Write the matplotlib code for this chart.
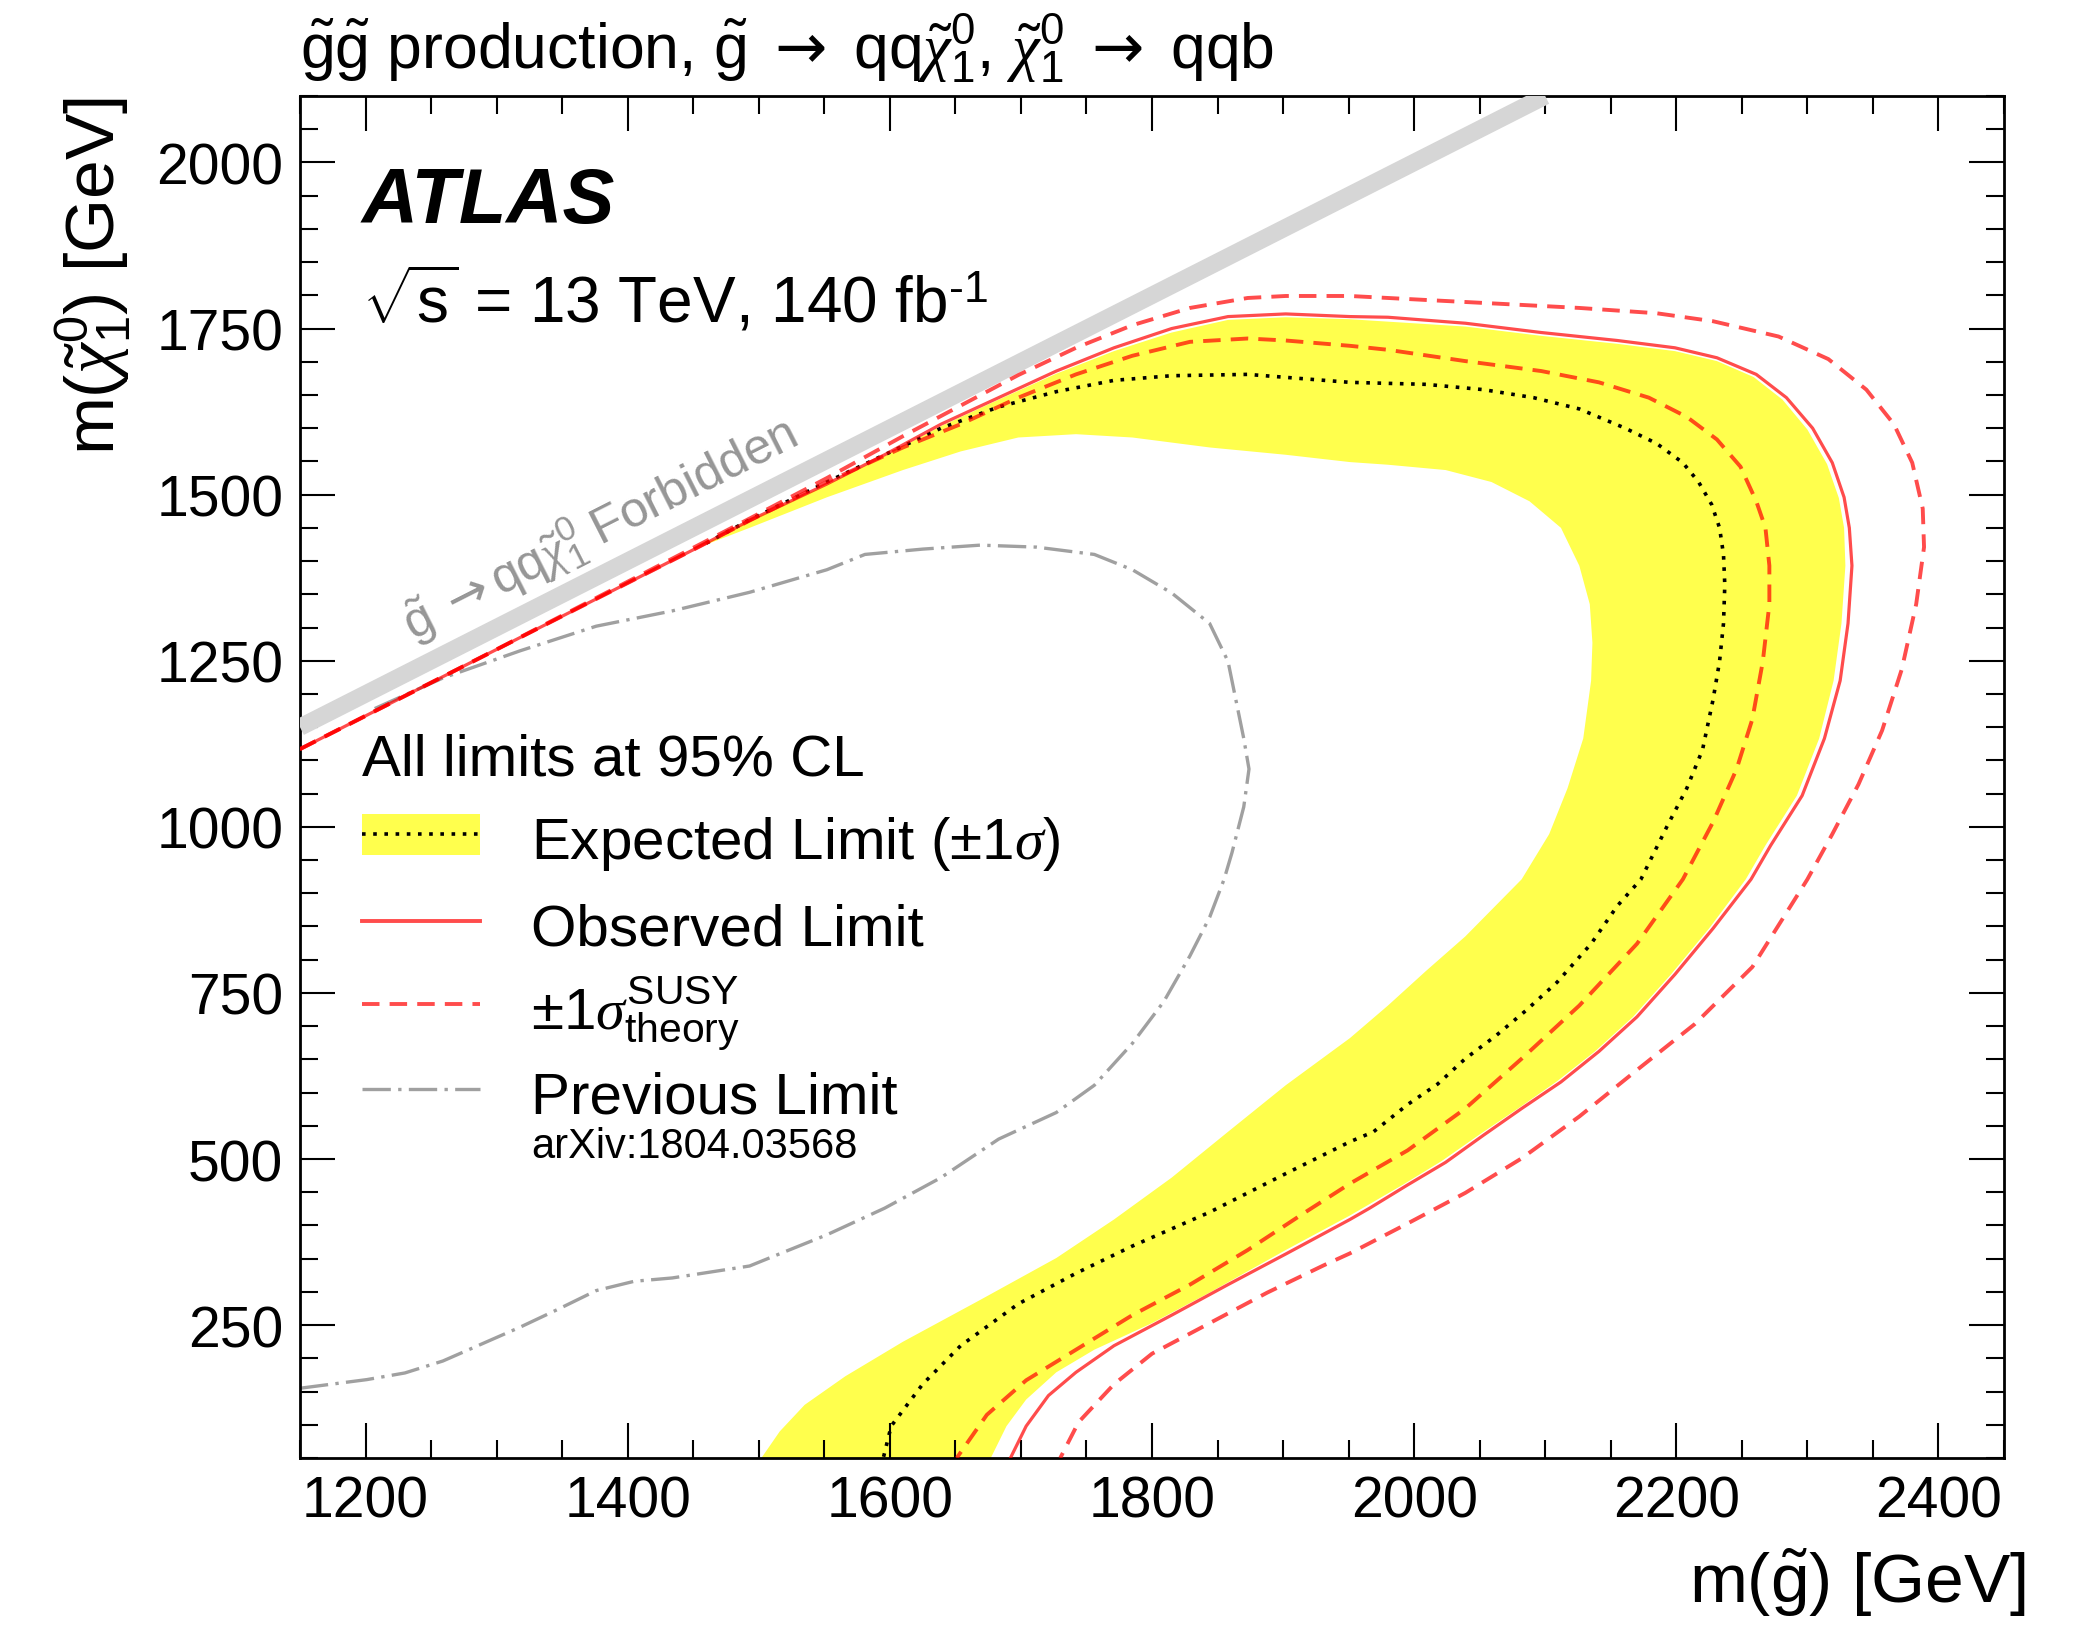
import matplotlib
matplotlib.use('Agg')
import matplotlib.pyplot as plt
from matplotlib.lines import Line2D
from matplotlib.patches import Rectangle
from matplotlib.ticker import MultipleLocator

plt.rcParams['font.family'] = ['Liberation Sans', 'DejaVu Sans']
plt.rcParams['mathtext.fontset'] = 'custom'
plt.rcParams['mathtext.rm'] = 'Liberation Sans'
plt.rcParams['mathtext.it'] = 'Liberation Serif:italic'
plt.rcParams['mathtext.bf'] = 'Liberation Sans:bold'
plt.rcParams['mathtext.sf'] = 'DejaVu Sans'

# --- contours: m(gluino), m(neutralino) in GeV ---
obs_x = [1150, 1300, 1450, 1493, 1552, 1596, 1639, 1683, 1727, 1771, 1815, 1858, 1902, 1951,
         1980, 2039, 2097, 2155, 2199, 2231, 2261, 2284, 2304, 2319, 2328, 2332, 2334, 2331,
         2325, 2313, 2296, 2272, 2257, 2228, 2199, 2170, 2141, 2112, 2082, 2053, 2024, 1995,
         1966, 1951, 1902, 1858, 1815, 1771, 1742, 1721, 1704, 1692]
obs_y = [1117, 1267, 1417, 1461, 1516, 1560, 1606, 1646, 1686, 1721, 1750, 1768, 1772, 1768,
         1767, 1758, 1744, 1732, 1721, 1706, 1681, 1646, 1600, 1548, 1496, 1450, 1393, 1306,
         1220, 1133, 1047, 972, 921, 847, 778, 714, 662, 616, 576, 536, 495, 461,
         426, 409, 357, 311, 265, 219, 179, 144, 98, 50]

obs_dn_x = [1150, 1300, 1450, 1493, 1552, 1610, 1654, 1698, 1742, 1785, 1829, 1873, 1902, 1951,
            1980, 2039, 2097, 2141, 2179, 2208, 2231, 2249, 2261, 2268, 2271, 2271, 2266, 2258,
            2246, 2228, 2205, 2170, 2126, 2082, 2039, 1995, 1951, 1917, 1873, 1829, 1785, 1742,
            1704, 1674, 1651]
obs_dn_y = [1117, 1267, 1417, 1461, 1519, 1571, 1606, 1646, 1681, 1709, 1730, 1735, 1732, 1724,
            1718, 1701, 1686, 1669, 1646, 1617, 1583, 1542, 1490, 1450, 1393, 1335, 1249, 1162,
            1087, 1007, 921, 824, 731, 651, 576, 513, 463, 420, 363, 311, 265, 213,
            167, 115, 50]

obs_up_x = [1150, 1300, 1450, 1493, 1552, 1610, 1654, 1698, 1742, 1785, 1829, 1873, 1902, 1951,
            2009, 2068, 2126, 2185, 2228, 2278, 2316, 2345, 2366, 2380, 2388, 2389, 2383, 2372,
            2357, 2339, 2319, 2300, 2258, 2214, 2170, 2126, 2082, 2039, 1995, 1951, 1931, 1888,
            1844, 1800, 1771, 1744, 1730]
obs_up_y = [1117, 1267, 1420, 1464, 1525, 1588, 1634, 1680, 1721, 1755, 1781, 1796, 1799, 1799,
            1793, 1787, 1781, 1773, 1761, 1738, 1704, 1658, 1606, 1548, 1479, 1421, 1335, 1237,
            1145, 1064, 989, 921, 789, 703, 634, 564, 501, 449, 403, 358, 340, 299,
            253, 207, 161, 104, 50]

exp_x = [1460, 1493, 1552, 1596, 1639, 1683, 1727, 1771, 1815, 1873, 1951, 2009, 2053, 2091,
         2126, 2161, 2185, 2205, 2217, 2227, 2233, 2236, 2237, 2236, 2233, 2228, 2220, 2208,
         2193, 2173, 2155, 2135, 2109, 2085, 2062, 2039, 2018, 1995, 1969, 1951, 1902, 1844,
         1785, 1742, 1698, 1654, 1625, 1601, 1595]
exp_y = [1427, 1462, 1519, 1560, 1600, 1632, 1655, 1672, 1679, 1681, 1669, 1666, 1658, 1646,
         1629, 1600, 1577, 1548, 1519, 1485, 1450, 1410, 1364, 1306, 1249, 1191, 1116, 1058,
         1001, 921, 881, 824, 766, 723, 685, 651, 613, 582, 541, 526, 478, 420,
         369, 328, 282, 219, 161, 98, 50]

# expected +1 sigma edge (diagonal -> bottom) and -1 sigma edge (bottom -> diagonal)
exp_up_x = [1460, 1493, 1552, 1596, 1639, 1683, 1727, 1771, 1815, 1858, 1902, 1951, 2039, 2097,
            2155, 2199, 2231, 2259, 2281, 2300, 2315, 2324, 2328, 2329, 2326, 2320, 2309, 2292,
            2268, 2253, 2225, 2196, 2167, 2138, 2109, 2080, 2050, 2021, 1992, 1951, 1902, 1844,
            1800, 1756, 1727, 1704, 1689, 1677]
exp_up_y = [1427, 1461, 1515, 1558, 1603, 1643, 1682, 1716, 1744, 1763, 1767, 1764, 1753, 1739,
            1727, 1716, 1701, 1677, 1643, 1598, 1546, 1495, 1450, 1393, 1306, 1220, 1133, 1047,
            972, 921, 847, 778, 714, 662, 617, 577, 537, 497, 462, 415, 363, 299,
            253, 213, 179, 138, 98, 50]
exp_dn_x = [1502, 1516, 1535, 1566, 1610, 1669, 1727, 1771, 1815, 1858, 1902, 1951, 1980, 2009,
            2039, 2068, 2082, 2103, 2117, 2129, 2135, 2136, 2134, 2126, 2112, 2088, 2059, 2024,
            1980, 1951, 1902, 1844, 1785, 1742, 1698, 1654, 1610, 1552, 1493, 1460]
exp_dn_y = [50, 90, 130, 173, 225, 288, 351, 409, 472, 541, 611, 682, 731, 783,
            835, 893, 921, 989, 1058, 1133, 1220, 1277, 1335, 1393, 1450, 1490, 1519, 1537,
            1545, 1549, 1560, 1571, 1586, 1591, 1586, 1565, 1537, 1496, 1450, 1425]

prev_x = [1150, 1201, 1230, 1259, 1318, 1347, 1376, 1405, 1434, 1493, 1508, 1552, 1596, 1639,
          1683, 1727, 1756, 1785, 1809, 1829, 1844, 1855, 1861, 1870, 1874, 1870, 1864, 1858,
          1844, 1815, 1785, 1756, 1712, 1669, 1625, 1581, 1552, 1493, 1434, 1376, 1318, 1259,
          1207]
prev_y = [155, 168, 178, 196, 247, 274, 302, 316, 321, 339, 351, 386, 426, 472,
          530, 570, 611, 674, 737, 806, 864, 921, 961, 1030, 1087, 1133, 1191, 1249,
          1306, 1352, 1387, 1410, 1421, 1424, 1418, 1410, 1387, 1353, 1325, 1302, 1265, 1224,
          1178]

# kinematic boundary m(chi) = m(gluino)
forb_x = [1150, 2100]
forb_y = [1150, 2100]

arrow = r'$\mathsf{\rightarrow}$'
gl = r'$\tilde{\mathrm{g}}$'
chi = r'$\tilde{\chi}^{0}_{1}$'
title = gl + gl + ' production, ' + gl + ' ' + arrow + ' qq' + chi + ', ' + chi + ' ' + arrow + ' qqb'

yellow = '#ffff4d'

fig = plt.figure(figsize=(20.8, 16.33), dpi=100)
ax = fig.add_axes([0.14423, 0.10655, 0.81923, 0.83405])

ax.fill(exp_up_x + exp_dn_x, exp_up_y + exp_dn_y, color=yellow, lw=0, zorder=1)
ax.plot(prev_x, prev_y, color='#a0a0a0', lw=2.4, dashes=(8.5, 2.2, 1, 2.2), zorder=2)
ax.plot(forb_x, forb_y, color='#d6d6d6', lw=12.5, solid_capstyle='butt', zorder=3)
ax.plot(exp_x, exp_y, color='black', lw=2.6, dashes=(1, 2.1), zorder=4)
ax.plot(obs_dn_x, obs_dn_y, color='red', alpha=0.7, lw=2.8, dashes=(4.5, 2.6), zorder=5)
ax.plot(obs_up_x, obs_up_y, color='red', alpha=0.7, lw=2.8, dashes=(4.5, 2.6), zorder=5)
ax.plot(obs_x, obs_y, color='red', alpha=0.7, lw=2.3, zorder=6)

ax.set_xlim(1150, 2450)
ax.set_ylim(50, 2100)
ax.xaxis.set_major_locator(MultipleLocator(200))
ax.xaxis.set_minor_locator(MultipleLocator(50))
ax.yaxis.set_major_locator(MultipleLocator(250))
ax.yaxis.set_minor_locator(MultipleLocator(50))
ax.tick_params(which='both', direction='in', top=True, right=True, width=1.5,
               labelsize=41, pad=12)
ax.tick_params(which='major', length=25)
ax.tick_params(which='minor', length=13)
for sp in ax.spines.values():
    sp.set_linewidth(2)

ax.set_xlabel(r'm($\tilde{\mathrm{g}}$) [GeV]', fontsize=50, loc='right')
ax.xaxis.set_label_coords(1.013, -0.064)
ax.set_ylabel(r'm($\tilde{\chi}^{0}_{1}$) [GeV]', fontsize=50, loc='top')
ax.yaxis.set_label_coords(-0.098, 1.0)

ax.text(0, 1.021, title, transform=ax.transAxes, fontsize=45, ha='left', va='baseline')
ax.text(0.0364, 0.9075, 'ATLAS', transform=ax.transAxes, fontsize=56,
        fontweight='bold', fontstyle='italic', va='baseline')
ax.text(0.0364, 0.8348, r'$\sqrt{\mathrm{s}}$ = 13 TeV, 140 fb$^{\text{-1}}$',
        transform=ax.transAxes, fontsize=46, va='baseline')
ax.text(1378, 1451, gl + ' ' + arrow + 'qq' + chi + ' Forbidden',
        rotation=45, transform_rotates_text=True, rotation_mode='anchor',
        ha='center', va='center', color='#969696', fontsize=36, zorder=3)

# legend, laid out by hand like the ROOT original
kx0, kx1, tx = 0.0364, 0.1056, 0.1356
ax.text(kx0, 0.502, 'All limits at 95% CL', transform=ax.transAxes, fontsize=42, va='baseline')
ax.add_patch(Rectangle((kx0, 0.4427), kx1 - kx0, 0.0301, transform=ax.transAxes,
                       facecolor=yellow, lw=0, zorder=7))
ax.add_line(Line2D([kx0, kx1], [0.4578, 0.4578], transform=ax.transAxes, color='black',
                   lw=2.6, dashes=(1, 2.1), zorder=8))
ax.add_line(Line2D([kx0, kx1], [0.394, 0.394], transform=ax.transAxes, color='red',
                   alpha=0.7, lw=2.8, zorder=8))
ax.add_line(Line2D([kx0, kx1], [0.3333, 0.3333], transform=ax.transAxes, color='red',
                   alpha=0.7, lw=2.8, dashes=(4.5, 2.6), zorder=8))
ax.add_line(Line2D([kx0, kx1], [0.271, 0.271], transform=ax.transAxes, color='#a0a0a0',
                   lw=2.4, dashes=(8.5, 2.2, 1, 2.2), zorder=8))
ax.text(tx, 0.4405, r'Expected Limit ($\pm 1\sigma$)', transform=ax.transAxes,
        fontsize=42, va='baseline')
ax.text(tx, 0.3767, 'Observed Limit', transform=ax.transAxes, fontsize=42, va='baseline')
ax.text(tx, 0.3157, r'$\pm 1\sigma^{\mathrm{SUSY}}_{\mathrm{theory}}$', transform=ax.transAxes,
        fontsize=42, va='baseline')
ax.text(tx, 0.2540, 'Previous Limit', transform=ax.transAxes, fontsize=42, va='baseline')
ax.text(tx, 0.221, 'arXiv:1804.03568', transform=ax.transAxes, fontsize=30, va='baseline')

fig.savefig('out.png', dpi=100, facecolor='white')
